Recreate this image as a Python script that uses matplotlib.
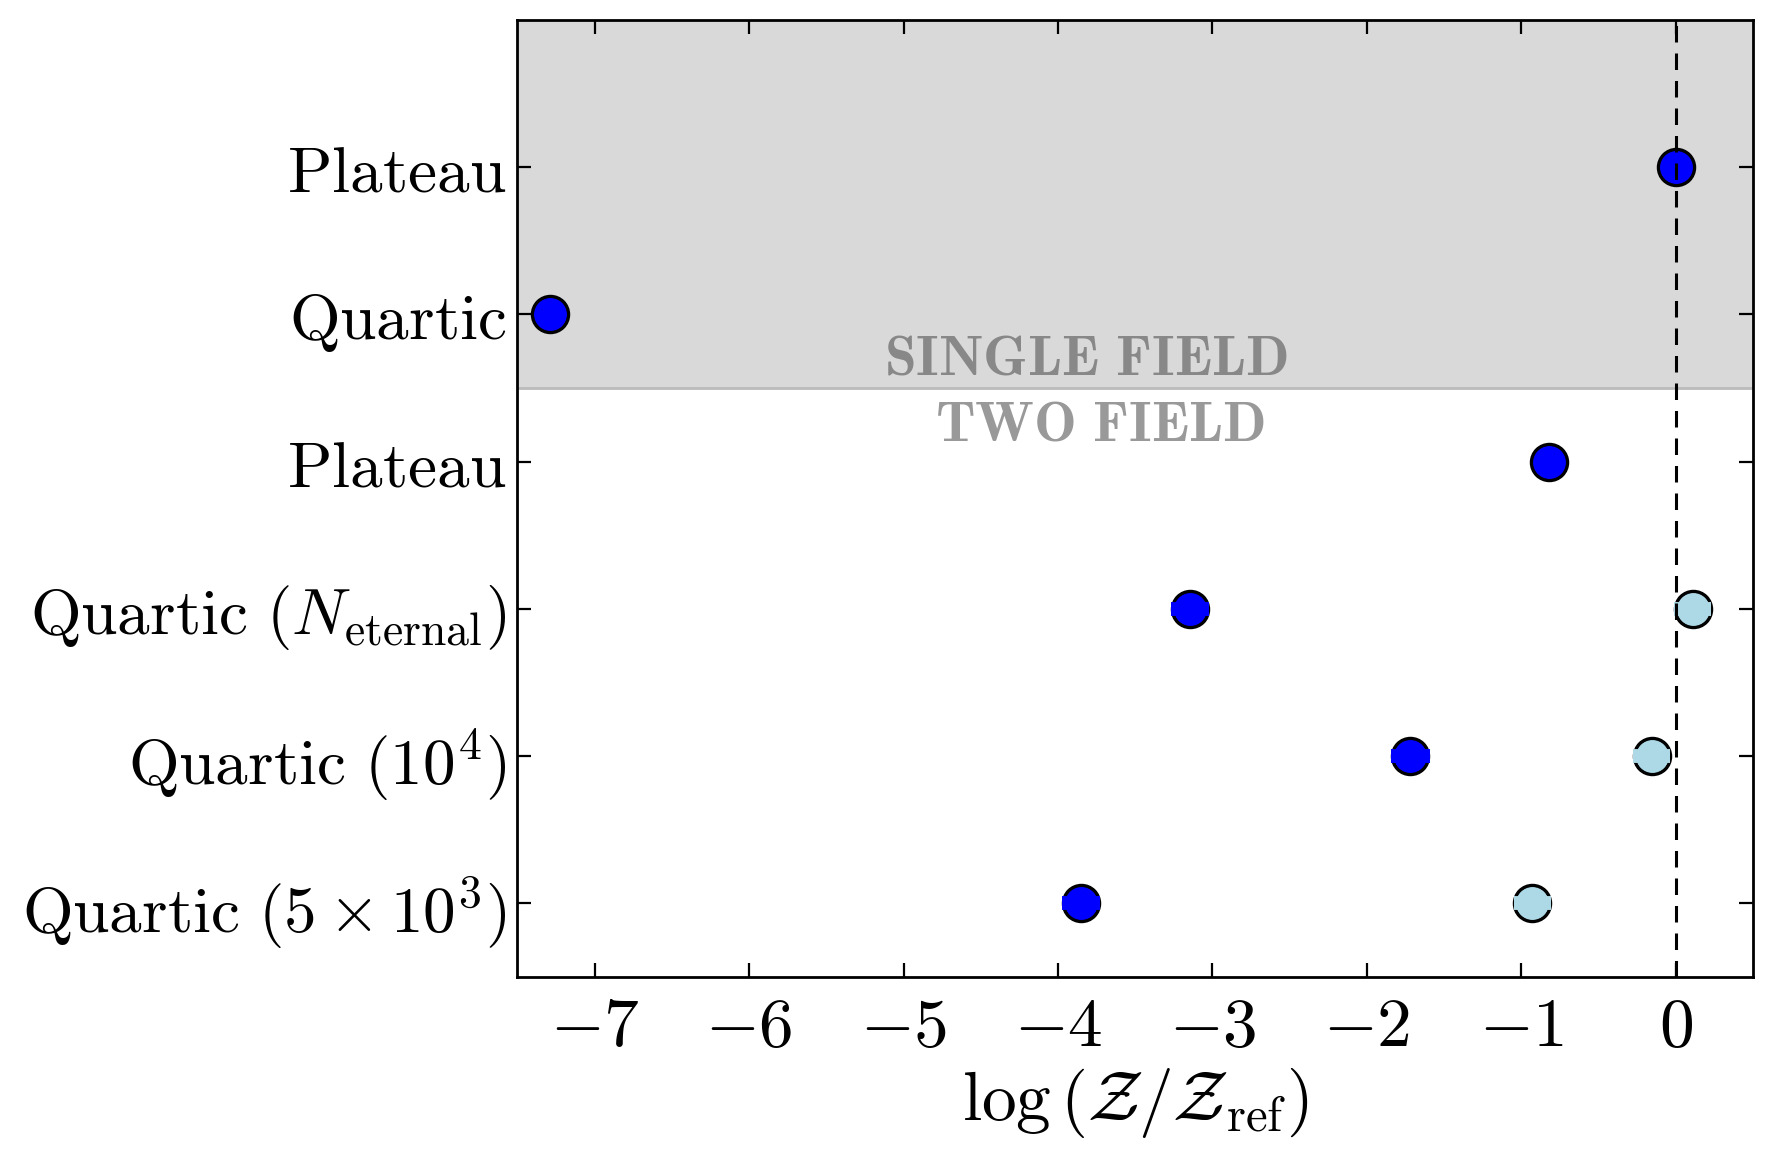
import matplotlib
matplotlib.use("Agg")
import matplotlib.pyplot as plt

plt.rcParams["mathtext.fontset"] = "cm"
plt.rcParams["font.family"] = "serif"

# rows, top to bottom
labels = [
    r"$\mathrm{Plateau}$",
    r"$\mathrm{Quartic}$",
    r"$\mathrm{Plateau}$",
    r"$\mathrm{Quartic}\ (N_{\mathrm{eternal}})$",
    r"$\mathrm{Quartic}\ (10^4)$",
    r"$\mathrm{Quartic}\ (5\times10^3)$",
]
# dark blue points (one per row)
blue_x = [0.0, -7.29, -0.82, -3.145, -1.72, -3.85]
blue_err = [0.0, 0.0, 0.0, 0.125, 0.125, 0.125]
# light blue points (two-field quartic rows only)
light_rows = [3, 4, 5]
light_x = [0.11, -0.155, -0.93]
light_err = [0.12, 0.12, 0.12]

xticks = [-7, -6, -5, -4, -3, -2, -1, 0]

n = len(labels)
ypos = [n - 1 - i for i in range(n)]
light_y = [ypos[r] for r in light_rows]

fig = plt.figure(figsize=(8.89, 5.795), dpi=200)
ax = fig.add_axes([0.291, 0.157, 0.695, 0.826])

ax.axhspan(3.5, 6.0, color="#d9d9d9", zorder=0, lw=0)
ax.axhline(3.5, color="#bbbbbb", lw=1.0, zorder=1)

for xs, ys, errs, col in [(blue_x, ypos, blue_err, "blue"),
                          (light_x, light_y, light_err, "lightblue")]:
    ax.plot(xs, ys, "o", mfc=col, mec="k", mew=1.2, ms=13, zorder=3)
    # short thick error bars sit on top of the marker outline
    for x, y, e in zip(xs, ys, errs):
        if e > 0:
            ax.plot([x - e, x + e], [y, y], color=col, lw=5, solid_capstyle="butt", zorder=3.5)
    # refill the marker face so the bar only shows at the sides
    ax.plot(xs, ys, "o", mfc=col, mec="none", ms=11.5, zorder=3.6)

ax.axvline(0.0, color="k", ls=(0, (5.4, 3.6)), lw=1.1, zorder=4)

ax.text(-3.82, 3.7, r"$\mathbf{SINGLE\ FIELD}$", color="#888888", fontsize=20.5,
        ha="center", va="center")
ax.text(-3.73, 3.25, r"$\mathbf{TWO\ FIELD}$", color="#999999", fontsize=20.5,
        ha="center", va="center")

ax.set_xlim(-7.5, 0.5)
ax.set_ylim(-0.5, 6.0)
ax.set_xticks(xticks)
ax.set_xticklabels([r"$%d$" % t for t in xticks])
ax.set_yticks(ypos)
ax.set_yticklabels(labels)
ax.tick_params(axis="both", which="major", direction="in", length=5, width=0.8,
               top=True, right=True)
ax.tick_params(axis="x", labelsize=25, pad=6)
ax.tick_params(axis="y", labelsize=23.5, pad=4)
for s in ax.spines.values():
    s.set_linewidth(1.0)
ax.set_xlabel(r"$\log\left(\mathcal{Z}/\mathcal{Z}_{\mathrm{ref}}\right)$", fontsize=25, labelpad=2)

fig.savefig("out.png", dpi=200)
